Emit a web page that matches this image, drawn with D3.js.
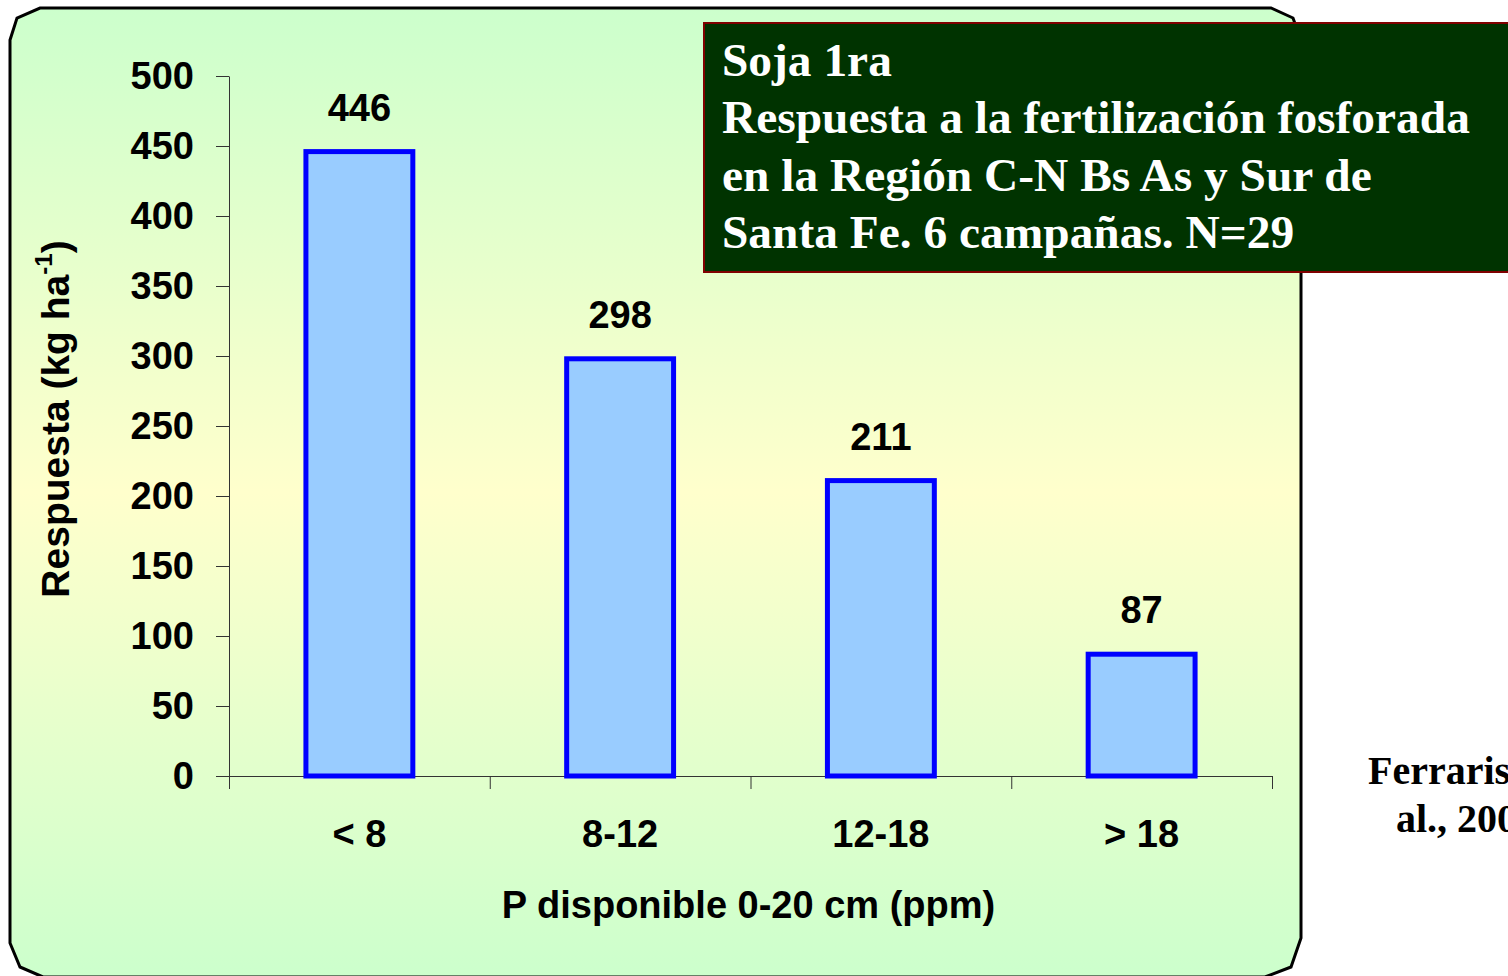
<!DOCTYPE html>
<html>
<head>
<meta charset="utf-8">
<script src="https://cdn.jsdelivr.net/npm/d3@7"></script>
<style>
    html, body { margin: 0; padding: 0; background: #ffffff; overflow: hidden; }
    svg { display: block; }
</style>
</head>
<body>
<div id="chart"></div>
<script>
'use strict';

// data
const categories = ['< 8', '8-12', '12-18', '> 18'];
const respuesta = [446, 298, 211, 87];
const yTicks = [0, 50, 100, 150, 200, 250, 300, 350, 400, 450, 500];
const titleLines = [
    'Soja 1ra',
    'Respuesta a la fertilización fosforada',
    'en la Región C-N Bs As y Sur de',
    'Santa Fe. 6 campañas. N=29'
];
const sourceLines = ['Ferraris et', 'al., 2006'];

const dim = {
    width: 1508,
    height: 976,
    left: 229,
    right: 1272,
    top: 76,
    bottom: 776
};

const font = '"Liberation Sans", Arial, sans-serif';

const svg = d3.select('#chart')
    .append('svg')
    .attr('width', dim.width)
    .attr('height', dim.height);

// background gradient of the panel
const grad = svg.append('defs')
    .append('linearGradient')
    .attr('id', 'bg')
    .attr('x1', 0).attr('y1', 0)
    .attr('x2', 0).attr('y2', 1);
grad.append('stop').attr('offset', '0%').attr('stop-color', '#ccffcc');
grad.append('stop').attr('offset', '50%').attr('stop-color', '#ffffcc');
grad.append('stop').attr('offset', '100%').attr('stop-color', '#ccffcc');

svg.append('path')
    .attr('d', 'M10,40 L17,18 L40,8 L1271,8 L1293,18 L1301,40 L1301,938 L1291,967 L1265,977 L43,977 L20,967 L10,943 Z')
    .attr('fill', 'url(#bg)')
    .attr('stroke', '#000')
    .attr('stroke-width', 3);

const y = d3.scaleLinear()
    .domain([0, 500])
    .range([dim.bottom, dim.top]);

const x = d3.scaleBand()
    .domain(categories)
    .range([dim.left, dim.right])
    .paddingInner(0)
    .paddingOuter(0);

const xEdges = d3.scaleLinear()
    .domain([0, categories.length])
    .range([dim.left, dim.right]);

// y axis
const yAxis = svg.append('g')
    .attr('transform', `translate(${dim.left},0)`)
    .call(d3.axisLeft(y).tickValues(yTicks).tickSize(13).tickSizeOuter(0).tickPadding(22));
yAxis.selectAll('text')
    .attr('font-family', font)
    .attr('font-weight', 'bold')
    .attr('font-size', 38)
    .attr('fill', '#000');
yAxis.selectAll('line, path').attr('stroke', '#333');

// x axis: tick lines at the category edges
const xAxis = svg.append('g')
    .attr('transform', `translate(0,${dim.bottom})`)
    .call(d3.axisBottom(xEdges).tickValues(d3.range(categories.length + 1)).tickSize(13).tickSizeOuter(0).tickFormat(''));
xAxis.selectAll('line, path').attr('stroke', '#333');

const xLabels = svg.append('g')
    .attr('transform', `translate(0,${dim.bottom})`)
    .call(d3.axisBottom(x).tickSize(0).tickPadding(44));
xLabels.select('.domain').remove();
xLabels.selectAll('text')
    .attr('font-family', font)
    .attr('font-weight', 'bold')
    .attr('font-size', 38)
    .attr('fill', '#000');

// bars
const barW = x.bandwidth() * 0.41;
const bars = svg.selectAll('.bar')
    .data(categories.map((c, i) => ({ name: c, value: respuesta[i] })))
    .enter()
    .append('g')
    .attr('class', 'bar');

bars.append('rect')
    .attr('x', (d) => x(d.name) + x.bandwidth() / 2 - barW / 2)
    .attr('y', (d) => y(d.value))
    .attr('width', barW)
    .attr('height', (d) => y(0) - y(d.value))
    .attr('fill', '#99ccff')
    .attr('stroke', '#0000ff')
    .attr('stroke-width', 5);

bars.append('text')
    .text((d) => d.value)
    .attr('x', (d) => x(d.name) + x.bandwidth() / 2)
    .attr('y', (d) => y(d.value) - 31)
    .attr('text-anchor', 'middle')
    .attr('font-family', font)
    .attr('font-weight', 'bold')
    .attr('font-size', 38);

// axis titles
svg.append('text')
    .text('P disponible 0-20 cm (ppm)')
    .attr('x', (dim.left + dim.right) / 2 - 2)
    .attr('y', 918)
    .attr('text-anchor', 'middle')
    .attr('font-family', font)
    .attr('font-weight', 'bold')
    .attr('font-size', 38);

const yTitle = svg.append('text')
    .attr('transform', 'translate(69,419) rotate(-90)')
    .attr('text-anchor', 'middle')
    .attr('font-family', font)
    .attr('font-weight', 'bold')
    .attr('font-size', 39);
yTitle.append('tspan').text('Respuesta (kg ha');
yTitle.append('tspan').text('-1').attr('font-size', 24).attr('dy', -17);
yTitle.append('tspan').text(')').attr('dy', 17);

// title box
svg.append('rect')
    .attr('x', 704)
    .attr('y', 23)
    .attr('width', 830)
    .attr('height', 249)
    .attr('fill', '#003300')
    .attr('stroke', '#800000')
    .attr('stroke-width', 2);

const title = svg.append('g');
title.selectAll('text')
    .data(titleLines)
    .enter()
    .append('text')
    .text((d) => d)
    .attr('x', 722)
    .attr('y', (d, i) => 76 + i * 57.3)
    .attr('fill', '#ffffff')
    .attr('font-family', '"Liberation Serif", "Times New Roman", serif')
    .attr('font-weight', 'bold')
    .attr('font-size', 42);

// fit the long title line to its width in the picture
const longest = title.selectAll('text').nodes()[1];
const scale = 748 / longest.getComputedTextLength();
title.selectAll('text').attr('font-size', 42 * scale);

// source note
svg.selectAll('.src')
    .data(sourceLines)
    .enter()
    .append('text')
    .attr('class', 'src')
    .text((d) => d)
    .attr('x', (d, i) => i === 0 ? 1368 : 1396)
    .attr('y', (d, i) => 784 + i * 48)
    .attr('font-family', '"Liberation Serif", "Times New Roman", serif')
    .attr('font-weight', 'bold')
    .attr('font-size', 40);
</script>
</body>
</html>
